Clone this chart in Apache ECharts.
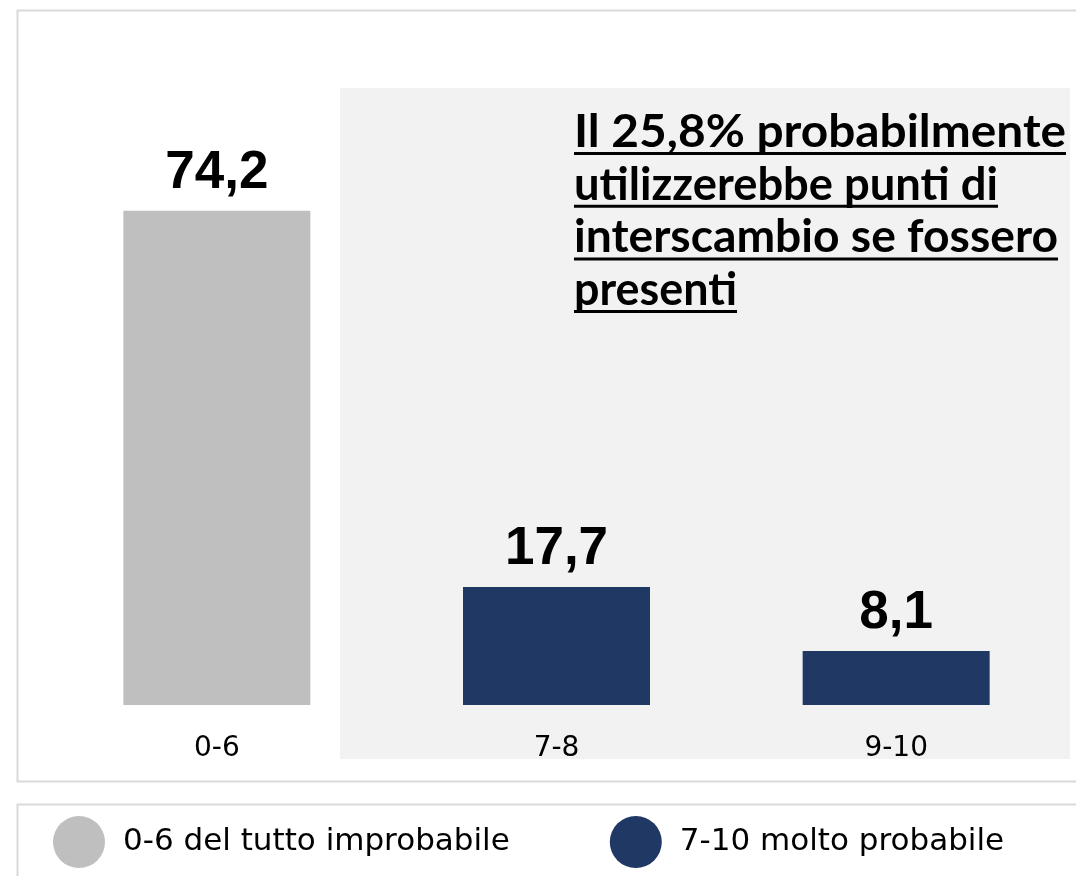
<!DOCTYPE html>
<html>
<head>
<meta charset="utf-8">
<script src="https://cdn.jsdelivr.net/npm/echarts@6/dist/echarts.min.js"></script>
<style>
  html, body { margin: 0; padding: 0; background: #fff; }
  #chart { width: 1076px; height: 876px; }
</style>
</head>
<body>
<div id="chart"></div>
<script>
// data
const categories = ['0-6', '7-8', '9-10'];
const lowValues = [74.2, '-', '-'];
const highValues = ['-', 17.7, 8.1];
const legendNames = ['0-6 del tutto improbabile', '7-10 molto probabile'];
const noteLines = [
  'Il 25,8% probabilmente',
  'utilizzerebbe punti di',
  'interscambio se fossero',
  'presenti'
];

const GREY = '#bfbfbf';
const NAVY = '#203864';
const labelFont = '"DejaVu Sans", sans-serif';
const noteSize = 46;
const noteFont = 'bold ' + noteSize + 'px Lato, sans-serif';

const chart = echarts.init(document.getElementById('chart'));

// line widths of the note as seen in the picture; each line is fitted to them
const noteWidths = [492, 424, 484, 163];
const ctx = document.createElement('canvas').getContext('2d');
ctx.font = noteFont;

const noteX = 574;
const noteBase = 148;
const noteLineH = 52.7;
const noteGraphics = [];
noteLines.forEach(function (t, i) {
  const base = noteBase + i * noteLineH;
  const s = noteWidths[i] / ctx.measureText(t).width;
  noteGraphics.push({
    type: 'text', z: 10,
    x: noteX, y: base - 0.845 * noteSize, scaleX: s,
    style: { text: t, x: 0, y: 0, font: noteFont, fill: '#000', verticalAlign: 'top' }
  });
  noteGraphics.push({
    type: 'line', z: 10,
    shape: { x1: noteX, y1: base + 5.5, x2: noteX + noteWidths[i], y2: base + 5.5 },
    style: { stroke: '#000', lineWidth: 3 }
  });
});

function fmt(p) {
  return String(p.value).replace('.', ',');
}

const valueLabel = {
  show: true,
  position: 'top',
  distance: 11,
  formatter: fmt,
  fontFamily: '"Liberation Sans", Arial, sans-serif',
  fontWeight: 'bold',
  fontSize: 53,
  color: '#000'
};

chart.setOption({
  animation: false,
  grid: { left: 47, right: 10, top: 39, bottom: 171 },
  xAxis: {
    type: 'category',
    data: categories,
    axisLine: { show: false },
    axisTick: { show: false },
    axisLabel: { fontFamily: labelFont, fontSize: 28, color: '#000', margin: 30 }
  },
  yAxis: {
    type: 'value',
    min: 0, max: 100,
    show: false
  },
  legend: {
    left: 48, top: 811,
    icon: 'circle',
    itemWidth: 52, itemHeight: 52,
    itemGap: 100,
    textStyle: { fontFamily: labelFont, fontSize: 31, color: '#000', padding: [0, 0, 0, 13] },
    data: legendNames
  },
  graphic: [
    {
      type: 'rect', z: -10,
      shape: { x: 17.5, y: 10.5, width: 1100, height: 771 },
      style: { fill: '#fff', stroke: '#d9d9d9', lineWidth: 2 }
    },
    {
      type: 'rect', z: -9,
      shape: { x: 340, y: 88, width: 730, height: 671 },
      style: { fill: '#f2f2f2' }
    },
    {
      type: 'rect', z: -10,
      shape: { x: 17.5, y: 804.5, width: 1100, height: 120 },
      style: { fill: '#fff', stroke: '#d9d9d9', lineWidth: 2 }
    }
  ].concat(noteGraphics),
  series: [
    {
      name: legendNames[0],
      type: 'bar',
      stack: 'all',
      barWidth: 187,
      data: lowValues,
      itemStyle: { color: GREY },
      label: valueLabel
    },
    {
      name: legendNames[1],
      type: 'bar',
      stack: 'all',
      barWidth: 187,
      data: highValues,
      itemStyle: { color: NAVY },
      label: valueLabel
    }
  ]
});
</script>
</body>
</html>
